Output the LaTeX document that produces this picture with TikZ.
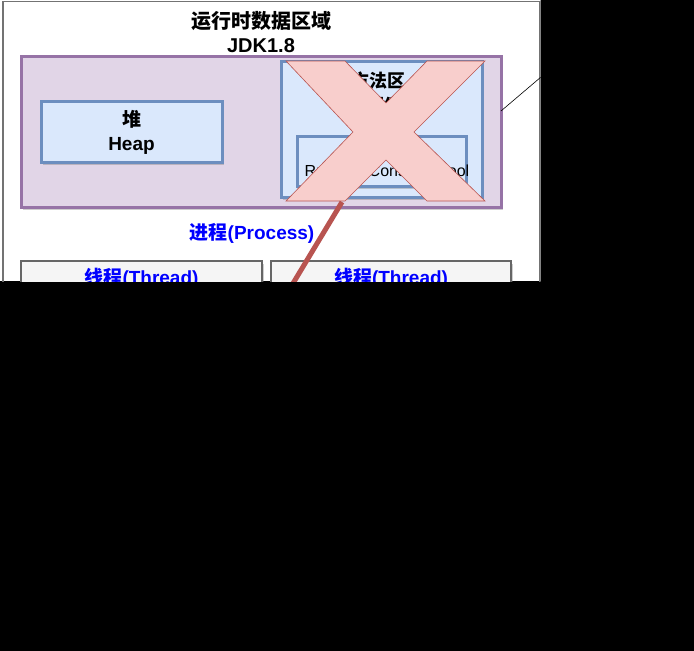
\documentclass[tikz,border=0pt]{standalone}
\usepackage{fontspec}
\setmainfont{Liberation Sans}
\newfontfamily\cjk{Noto Sans CJK SC}
\usetikzlibrary{shadows,calc}
\definecolor{procfill}{HTML}{E1D5E7}
\definecolor{procline}{HTML}{9673A6}
\definecolor{bluefill}{HTML}{DAE8FC}
\definecolor{blueline}{HTML}{6C8EBF}
\definecolor{greyfill}{HTML}{F5F5F5}
\definecolor{greyline}{HTML}{666666}
\definecolor{xfill}{HTML}{F8CECC}
\definecolor{xline}{HTML}{B85450}
\definecolor{pureblue}{HTML}{0000FF}
\begin{document}
\begin{tikzpicture}[x=1pt,y=-1pt,
  shade box/.style={drop shadow={shadow xshift=2pt,shadow yshift=-2.5pt,opacity=0.35,fill=black!55}},
  region/.style={draw, line width=3pt, inner sep=0pt, outer sep=0pt, shade box},
  procbox/.style={region, fill=procfill, draw=procline},
  bluebox/.style={region, fill=bluefill, draw=blueline},
  threadbox/.style={region, fill=greyfill, draw=greyline, line width=2.6pt},
  bigtxt/.style={font=\fontsize{19}{24}\selectfont\bfseries, align=center, inner sep=0pt},
  titletxt/.style={font=\fontsize{20}{24}\selectfont\bfseries, align=center, inner sep=0pt},
  smalltxt/.style={font=\fontsize{16}{20}\selectfont, align=center, inner sep=0pt},
  bluetxt/.style={bigtxt, text=pureblue},
  crossmark/.style={fill=xfill, draw=xline, line width=0.6pt, line join=miter},
  strike/.style={draw=xline, line width=5pt},
  callout/.style={draw=black, line width=0.6pt}
]
\useasboundingbox (0,0) rectangle (694,651);
\fill[black] (0,0) rectangle (694,651);
\begin{scope}
  \clip (0,0) rectangle (540.5,281);
  \fill[white] (0,0) rectangle (540.5,281);
  \draw[draw=black!55, line width=1.5pt] (3,400) -- (3,1.5) -- (540,1.5) -- (540,400);

  \node[titletxt] (title) at (261,32) {{\cjk 运行时数据区域}\\JDK1.8};

  \node[procbox, minimum width=480pt, minimum height=151pt] (proc) at (261,131.5) {};
  \node[bluebox, minimum width=181pt, minimum height=61pt] (heap) at (131.5,131.5) {};
  \node[bigtxt] (heaptxt) at (131.5,132) {{\cjk 堆}\\Heap};

  \node[bluebox, minimum width=201pt, minimum height=136pt] (method) at (381.5,129) {};
  \node[bigtxt, font=\fontsize{18}{25}\selectfont\bfseries] (methodtxt) at (378,93) {{\cjk 方法区}\\{\cjk 非堆}};
  \node[bluebox, minimum width=169pt, minimum height=50pt] (rcp) at (381.5,161) {};
  \node[smalltxt] (rcptxt) at (387,171) {Runtime Constant Pool};

  \filldraw[crossmark] (286,61) -- (345,61) -- (386,103) -- (427,61) -- (485,61)
     -- (414,132) -- (485,201) -- (427,201) -- (386,160) -- (345,201)
     -- (286,201) -- (353,132) -- cycle;

  \node[bluetxt] (proclabel) at (252,233) {{\cjk 进程}(Process)};

  \node[threadbox, minimum width=241pt, minimum height=80pt] (th1) at (141.5,301) {};
  \node[threadbox, minimum width=240pt, minimum height=80pt] (th2) at (391,301) {};
  \node[bluetxt] (th1txt) at (141.5,278) {{\cjk 线程}(Thread)};
  \node[bluetxt] (th2txt) at (391,278) {{\cjk 线程}(Thread)};

  \coordinate (xfoot) at (342,202);
  \coordinate (strikeend) at (283,300);
  \draw[strike] (xfoot) -- (strikeend);

  \coordinate (calloutend) at (541,77);
  \draw[callout] ([yshift=20.5pt]proc.east) -- (calloutend);
\end{scope}
\end{tikzpicture}
\end{document}
